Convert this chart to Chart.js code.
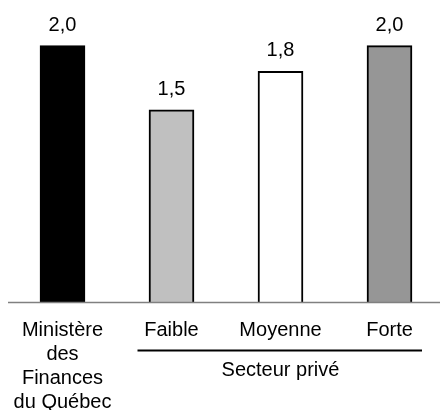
<!DOCTYPE html>
<html lang="fr">
<head>
<meta charset="utf-8">
<title>Croissance</title>
<script src="https://cdn.jsdelivr.net/npm/chart.js@4/dist/chart.umd.min.js"></script>
<style>
  html, body { margin: 0; padding: 0; background: #fff; overflow: hidden; }
  #wrap { width: 444px; height: 410px; }
</style>
</head>
<body>
<div id="wrap"><canvas id="c" width="444" height="410"></canvas></div>
<script>
// Catégories et valeurs
const categories = [
  ['Ministère', 'des', 'Finances', 'du Québec'],
  ['Faible'],
  ['Moyenne'],
  ['Forte']
];
const values = [2.0, 1.5, 1.8, 2.0];
const groupLabel = 'Secteur privé';
const groupMembers = [1, 2, 3];

const fills = ['#000000', '#c0c0c0', '#ffffff', '#969696'];
const FONT = '20px "Liberation Sans", Arial, sans-serif';

const fmt = v => v.toFixed(1).replace('.', ',');

const annotate = {
  id: 'annotate',
  afterDatasetsDraw(chart) {
    const ctx = chart.ctx;
    const x = chart.scales.x;
    const y = chart.scales.y;
    const area = chart.chartArea;
    const y0 = y.getPixelForValue(0);

    ctx.save();
    // ligne de base
    ctx.strokeStyle = '#808080';
    ctx.lineWidth = 1.5;
    ctx.beginPath();
    ctx.moveTo(area.left, y0);
    ctx.lineTo(area.right, y0);
    ctx.stroke();

    ctx.font = FONT;
    ctx.fillStyle = '#000';
    ctx.textAlign = 'center';
    ctx.textBaseline = 'alphabetic';

    // valeurs au-dessus des barres
    const meta = chart.getDatasetMeta(0);
    meta.data.forEach((bar, i) => {
      ctx.fillText(fmt(values[i]), bar.x, bar.y - 15);
    });

    // étiquettes de catégories
    categories.forEach((lines, i) => {
      const cx = x.getPixelForValue(i);
      lines.forEach((t, k) => ctx.fillText(t, cx, y0 + 33.5 + k * 24));
    });

    // regroupement
    const first = groupMembers[0], last = groupMembers[groupMembers.length - 1];
    const gx0 = x.getPixelForValue(first) - 34;
    const gx1 = x.getPixelForValue(last) + 32.5;
    const gy = y0 + 48;
    ctx.strokeStyle = '#000';
    ctx.lineWidth = 2;
    ctx.beginPath();
    ctx.moveTo(gx0, gy);
    ctx.lineTo(gx1, gy);
    ctx.stroke();
    ctx.fillText(groupLabel, x.getPixelForValue(first + (last - first) / 2), y0 + 73.5);
    ctx.restore();
  }
};

new Chart(document.getElementById('c'), {
  type: 'bar',
  data: {
    labels: categories,
    datasets: [{
      data: values,
      backgroundColor: fills,
      borderColor: '#000',
      borderWidth: 2,
      borderSkipped: 'start',
      barThickness: 45
    }]
  },
  options: {
    responsive: false,
    animation: false,
    devicePixelRatio: 1,
    layout: { padding: { left: 8, right: 0, top: 20, bottom: 107.5 } },
    plugins: { legend: { display: false }, tooltip: { enabled: false } },
    scales: {
      x: { display: false, offset: true },
      y: { display: false, min: 0, max: 2.2 }
    }
  },
  plugins: [annotate]
});
</script>
</body>
</html>
